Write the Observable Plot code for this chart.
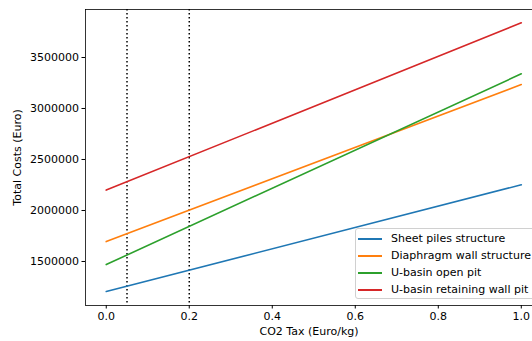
<!DOCTYPE html>
<html>
<head>
<meta charset="utf-8">
<script src="https://cdn.jsdelivr.net/npm/d3@7"></script>
<script src="https://cdn.jsdelivr.net/npm/@observablehq/plot@0.6"></script>
<style>
  html, body { margin: 0; padding: 0; background: #fff; overflow: hidden; }
  #wrap { position: relative; width: 532px; height: 341px; }
  #legend { position: absolute; left: 355px; top: 228px; width: 190px; height: 71px;
    border: 1px solid #d0d0d0; border-radius: 3px; background: rgba(255,255,255,0.8);
    font-family: "DejaVu Sans", sans-serif; font-size: 11px; color: #000; box-sizing: border-box; }
  .row { position: absolute; left: 2px; height: 17px; display: flex; align-items: center; white-space: nowrap; }
  .sw { width: 24px; height: 2px; margin-right: 9px; }
</style>
</head>
<body>
<div id="wrap"><div id="chart"></div><div id="legend"></div></div>
<script>
const seriesNames = ["Sheet piles structure", "Diaphragm wall structure", "U-basin open pit", "U-basin retaining wall pit"];
const colors = ["#1f77b4", "#ff7f0e", "#2ca02c", "#d62728"];
const taxValues = [0, 1];
const sheetPiles = [1206000, 2252000];
const diaphragmWall = [1695000, 3235000];
const openPit = [1470000, 3340000];
const retainingWallPit = [2200000, 3840000];
const markerTaxes = [0.05, 0.2];
const xTicks = [0, 0.2, 0.4, 0.6, 0.8, 1.0];
const yTicks = [1500000, 2000000, 2500000, 3000000, 3500000];

const seriesValues = [sheetPiles, diaphragmWall, openPit, retainingWallPit];
const rows = [];
seriesNames.forEach((name, i) => taxValues.forEach((t, j) => rows.push({series: name, tax: t, cost: seriesValues[i][j]})));

const yDomain = [1068600, 3970600];
const xDomain = [-0.05, 1.027];

const chart = Plot.plot({
  width: 532,
  height: 341,
  marginLeft: 85,
  marginRight: 0,
  marginTop: 9,
  marginBottom: 36,
  style: {fontFamily: "DejaVu Sans, sans-serif", fontSize: "11px", color: "#000", background: "#fff"},
  x: {domain: xDomain},
  y: {domain: yDomain},
  color: {domain: seriesNames, range: colors},
  marks: [
    Plot.ruleX(markerTaxes, {stroke: "#000", strokeWidth: 1.5, strokeDasharray: "1.5,2.5"}),
    Plot.line(rows, {x: "tax", y: "cost", z: "series", stroke: "series", strokeWidth: 1.6}),
    Plot.ruleX([xDomain[0]], {stroke: "#000", strokeWidth: 0.8}),
    Plot.ruleY([yDomain[0]], {stroke: "#000", strokeWidth: 0.8}),
    Plot.ruleY([yDomain[1]], {stroke: "#000", strokeWidth: 0.8}),
    Plot.axisX({ticks: xTicks, tickFormat: d => d.toFixed(1), tickSize: 3.5, tickPadding: 3, stroke: "#000", label: "CO2 Tax (Euro/kg)", labelAnchor: "center", labelArrow: "none", labelOffset: 29}),
    Plot.axisY({ticks: yTicks, tickFormat: d => String(d), tickSize: 3.5, tickPadding: 3, stroke: "#000", label: "Total Costs (Euro)", labelAnchor: "center", labelArrow: "none", labelOffset: 72})
  ]
});
document.getElementById("chart").appendChild(chart);

const legend = document.getElementById("legend");
seriesNames.forEach((name, i) => {
  const row = document.createElement("div");
  row.className = "row";
  row.style.top = (1 + i * 17) + "px";
  const sw = document.createElement("div");
  sw.className = "sw";
  sw.style.background = colors[i];
  const label = document.createElement("span");
  label.textContent = name;
  row.appendChild(sw);
  row.appendChild(label);
  legend.appendChild(row);
});
</script>
</body>
</html>
